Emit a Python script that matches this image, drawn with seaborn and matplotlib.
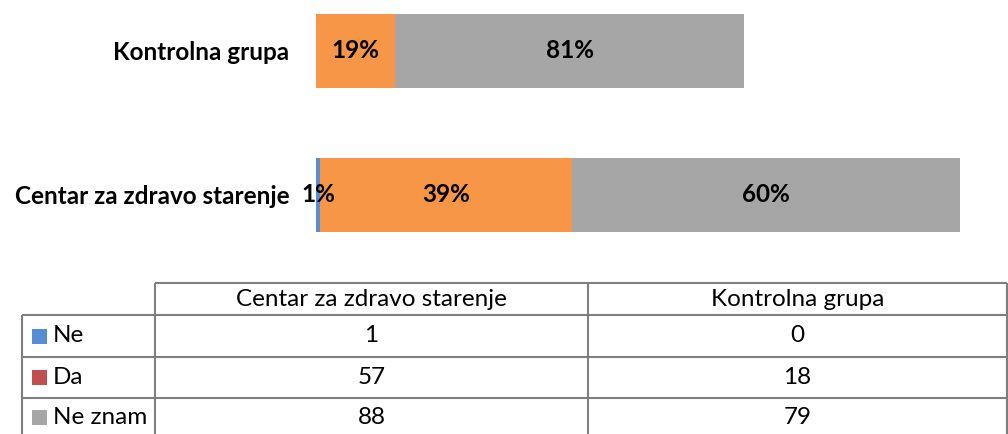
import matplotlib
matplotlib.use("Agg")
import matplotlib.pyplot as plt
import seaborn as sns
import numpy as np
import pandas as pd

# Survey answers per group
groups = ["Kontrolna grupa", "Centar za zdravo starenje"]
answers = ["Ne", "Da", "Ne znam"]
ne = [0, 1]
da = [18, 57]
ne_znam = [79, 88]

# Table layout follows the column order of the data sheet
table_groups = ["Centar za zdravo starenje", "Kontrolna grupa"]

bar_colors = {"Ne": "#558ED5", "Da": "#F79646", "Ne znam": "#A6A6A6"}
key_colors = {"Ne": "#558ED5", "Da": "#C0504D", "Ne znam": "#A6A6A6"}

sns.set_theme(style="white")
plt.rcParams["font.family"] = ["Lato", "DejaVu Sans"]

FS = 17.5
W, H = 1008, 434
fig = plt.figure(figsize=(W / 100, H / 100), dpi=100)

df = pd.DataFrame({"grupa": groups, "Ne": ne, "Da": da, "Ne znam": ne_znam})
cum = df[answers].cumsum(axis=1)

# Stacked horizontal bars: draw running totals back to front
ax = fig.add_axes([316 / W, 1 - 262 / H, (W - 316) / W, 262 / H])
for ans in reversed(answers):
    sns.barplot(data=cum.assign(grupa=df["grupa"]), x=ans, y="grupa", order=groups,
                orient="h", color=bar_colors[ans], width=0.514, ax=ax,
                saturation=1, edgecolor="none", linewidth=0)

px_per_unit = 4.41
ax.set_xlim(0, (W - 316) / px_per_unit)
top_units = 51 / 144
ax.set_ylim(1 + (262 - 195) / 144, -top_units)
ax.set_xlabel("")
ax.set_ylabel("")
ax.set_xticks([])
for s in ax.spines.values():
    s.set_visible(False)
ax.tick_params(axis="y", length=0, pad=19)
for lab in ax.get_yticklabels():
    lab.set_fontweight("bold")
    lab.set_fontsize(FS)
    lab.set_color("black")

# Percentage labels centred in each segment
totals = df[answers].sum(axis=1).values
for i, g in enumerate(groups):
    left = 0
    for ans in answers:
        v = df.loc[i, ans]
        if v > 0:
            pct = v / totals[i] * 100
            ax.text(left + v / 2, i, f"{pct:.0f}%", ha="center", va="center",
                    fontsize=FS, fontweight="bold", color="black")
        left += v

# Data table under the chart
tx = fig.add_axes([0, 0, 1, 1])
tx.set_xlim(0, W)
tx.set_ylim(H, 0)
tx.axis("off")
tx.patch.set_alpha(0)

line_kw = dict(color="#7F7F7F", lw=1.5, solid_capstyle="butt")
col_x = [22, 155, 588, 1007]
row_y = [283, 315, 357, 398, 440]

# header row (no border on the empty corner cell)
tx.plot([col_x[1], col_x[3]], [row_y[0], row_y[0]], **line_kw)
for yy in row_y[1:4]:
    tx.plot([col_x[0], col_x[3]], [yy, yy], **line_kw)
tx.plot([col_x[0], col_x[0]], [row_y[1], row_y[4]], **line_kw)
for xx in col_x[1:]:
    tx.plot([xx, xx], [row_y[0], row_y[4]], **line_kw)

for j, g in enumerate(table_groups):
    cx = (col_x[j + 1] + col_x[j + 2]) / 2
    tx.text(cx, (row_y[0] + row_y[1]) / 2, g, ha="center", va="center",
            fontsize=FS, color="black")

table_vals = {"Ne": ne, "Da": da, "Ne znam": ne_znam}
for r, ans in enumerate(answers):
    cy = (row_y[r + 1] + row_y[r + 2]) / 2 if r < 2 else 417
    tx.add_patch(plt.Rectangle((32, cy - 7.5), 15, 15, color=key_colors[ans], lw=0))
    tx.text(53, cy, ans, ha="left", va="center", fontsize=FS, color="black")
    vals = table_vals[ans]
    for j, g in enumerate(table_groups):
        v = vals[groups.index(g)]
        cx = (col_x[j + 1] + col_x[j + 2]) / 2
        tx.text(cx, cy, str(v), ha="center", va="center", fontsize=FS, color="black")

fig.savefig("out.png", dpi=100)
